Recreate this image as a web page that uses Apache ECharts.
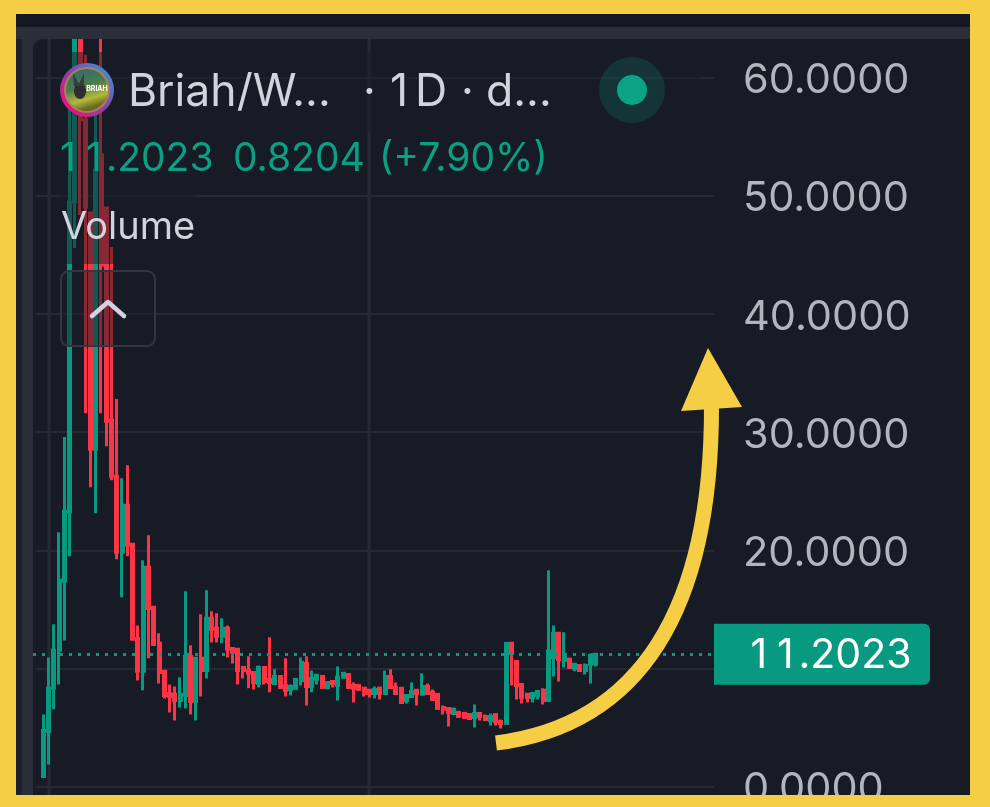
<!DOCTYPE html>
<html>
<head>
<meta charset="utf-8">
<style>html,body{margin:0;padding:0;background:#f6ce45}#c{width:990px;height:807px}</style>
<script src="https://cdn.jsdelivr.net/npm/echarts@6/dist/echarts.min.js"></script>
</head>
<body>
<div id="c"></div>
<script>
const opens  = [0.85,4.66,8.31,11.53,17.37,23.22,49.49,64,56.44,48.56,28.56,53.47,48.98,31.02,26.27,19.83,23.81,20.51,12.54,9.75,18.56,15.17,12.12,9.75,7.88,7.8,7.29,7.71,11.02,7.2,10.85,9.83,14.24,13.39,12.71,13.39,11.69,11.61,10.08,9.83,9.66,8.73,10.08,9.07,8.73,9.32,8.56,8.22,8.31,8.98,10.42,8.47,9.07,9.32,8.39,8.9,8.56,9.24,9.49,8.56,8.56,8.31,8.14,7.88,8.31,7.88,9.32,8.39,8.31,7.29,7.63,8.14,7.8,8.47,7.97,7.8,6.69,6.61,6.19,6.27,6.19,6.1,5.85,6.19,5.93,5.59,6.1,5.51,5.34,12.12,10.59,8.64,7.8,7.54,7.71,8.14,7.29,10.93,12.97,10.68,10.76,10,10.25,9.83,10.34,10.38];
const closes = [4.75,8.31,11.53,17.46,23.3,49.49,64,56.44,49.07,28.56,52.2,44.15,30.93,26.27,19.83,23.81,20.42,12.46,9.75,18.56,15.08,12.03,9.66,7.71,7.63,7.29,7.8,11.02,7.2,10.85,9.83,14.24,13.31,12.71,13.39,11.61,11.36,9.83,9.83,9.58,8.81,10.08,8.9,8.81,9.32,8.39,8.14,8.47,9.07,10.51,8.47,9.15,9.41,8.39,8.81,8.73,9.24,9.58,8.39,8.31,8.22,7.88,7.88,8.22,7.88,9.32,8.39,7.88,7.12,7.71,8.05,7.88,8.47,7.88,7.37,6.61,6.53,6.27,6.53,5.93,5.85,5.76,6.19,5.93,5.68,5.93,5.51,5.34,12.12,11.27,8.56,7.54,7.54,7.88,8.05,7.29,11.44,12.97,10.76,10.93,10.08,10.34,9.83,10.25,11.1,11.2023];
const lows   = [0.85,1.86,6.53,8.64,12.37,19.49,45.59,48.39,31.61,25.34,23.14,31.61,28.81,25.93,19.24,16.02,19.49,12.37,8.98,8.14,10.85,11.95,8.73,7.46,6.27,5.59,6.69,6.61,6.1,5.59,7.63,9.15,12.2,12.2,12.12,10.93,10.42,8.64,9.15,8.31,8.22,8.39,8.64,7.97,8.73,8.31,7.63,7.71,8.31,8.56,6.86,7.97,8.64,8.39,8.22,8.39,7.29,9.15,8.31,7.12,8.22,7.63,7.54,7.46,7.37,7.88,8.39,7.88,7.03,7.03,7.63,6.86,7.71,7.8,7.29,6.61,6.1,5.08,6.1,5.93,5.85,5.68,5,5.59,5.68,5.17,5.17,4.92,5.34,8.56,7.37,7.03,7.12,7.12,7.37,6.95,7.29,9.32,8.9,10.08,10.08,9.75,9.75,9.49,8.73,10.17];
const highs  = [6.1,10.93,13.73,21.53,29.58,57.71,66,66,61.95,48.56,57.29,66,48.98,45.68,32.8,26.1,27.2,20.51,13.64,19.15,21.27,15.17,12.97,9.75,8.64,8.47,9.24,16.53,11.95,10.85,14.58,16.61,14.83,14.66,14.24,13.64,11.69,11.61,10.17,11.02,9.66,10.25,10.08,12.63,9.92,9.32,10.85,8.64,9.07,10.93,11.02,9.83,9.49,9.32,8.9,8.9,10.17,9.66,9.49,8.81,8.56,8.31,8.14,8.47,8.47,9.83,9.92,8.81,8.31,7.8,8.81,8.14,9.58,8.73,8.22,7.8,6.86,6.61,6.69,6.27,6.19,6.1,6.95,6.19,6.1,6.19,6.1,5.68,12.12,12.2,10.59,8.64,7.8,7.88,8.14,8.31,18.31,13.64,12.97,13.05,10.93,10.34,10.34,10.42,11.27,11.2023];
const lastPrice = 11.2023;
const verticalMarkers = [2,63];
const leadingEmptyDays = 1, trailingEmptyDays = 22;
const titleLeft = 'Briah/W...';
const changeText = '0.8204', pctText = '(+7.90%)', volumeText = 'Volume';

const UP='#089981', UPTEXT='#0aa083', DOWN='#fb3545', BG='#171b26', BAND='#2a2e39', YEL='#f6ce45', F='Inter, sans-serif';
const blank=['-','-','-','-'];
const candles=[];
for(let i=0;i<leadingEmptyDays;i++)candles.push(blank);
opens.forEach((o,i)=>candles.push([o,closes[i],lows[i],highs[i]]));
const total=candles.length+trailingEmptyDays;
const categories=Array.from({length:total},(_,i)=>String(i));
const priceStr=lastPrice.toFixed(4);

const chart=echarts.init(document.getElementById('c'),null,{renderer:'canvas'});
const rect=(x,y,w,h,fill,z,r)=>({type:'rect',silent:true,z,shape:{x,y,width:w,height:h,r:r||0},style:{fill}});
const txt=(text,x,y,size,fill,z)=>({type:'text',silent:true,z:z||60,style:{text,x,y,fill,font:`${size}px ${F}`,textVerticalAlign:'middle'}});
const circ=(cx,cy,r,fill,z)=>({type:'circle',silent:true,z:z||60,shape:{cx,cy,r},style:{fill}});

chart.setOption({
  animation:false,
  backgroundColor:BG,
  grid:{left:35.4,right:276,top:77.8,bottom:20.5,containLabel:false,outerBoundsMode:'none'},
  xAxis:{type:'category',data:categories,boundaryGap:true,axisLine:{show:false},axisTick:{show:false},axisLabel:{show:false},splitLine:{show:false}},
  yAxis:{type:'value',position:'right',min:0,max:60,interval:10,scale:false,
    axisLine:{show:false},axisTick:{show:false},
    axisLabel:{margin:29,formatter:v=>`{a|${v.toFixed(4)}}`,
      rich:{a:{color:'#b2b5be',fontFamily:F,fontSize:41.5,padding:[6,0,0,0]}}},
    splitLine:{lineStyle:{color:'#252933',width:2}}},
  series:[
    {type:'candlestick',z:3,clip:false,barWidth:2.5,silent:true,data:candles,
      itemStyle:{color:UP,color0:DOWN,borderColor:UP,borderColor0:DOWN,borderWidth:3},
      markLine:{silent:true,symbol:'none',animation:false,precision:4,
        lineStyle:{color:'rgba(0,0,0,0)',width:1},
        label:{show:true,position:'end',distance:0,
          formatter:()=>[...priceStr.slice(0,2)].map(c=>`{d|${c}}`).join('')+`{n|${priceStr.slice(2)}}`,
          rich:{d:{width:26.5,fontFamily:F,fontSize:41,color:'#fff',align:'center'},n:{fontFamily:F,fontSize:41,color:'#fff'}},
          backgroundColor:UP,width:203,height:58,lineHeight:58,padding:[3,0,0,13],borderRadius:[0,6,6,0],align:'left',verticalAlign:'middle'},
        data:[{yAxis:lastPrice}]}}
  ]
});

const vLines=verticalMarkers.map(k=>{
  const x=chart.convertToPixel({xAxisIndex:0},k);
  return rect(Math.round(x)-1.5,39,3,756,'#262a33',1);
});
const priceY=Math.floor(chart.convertToPixel({yAxisIndex:0},lastPrice));
const priceDots=[];
for(let x=33;x<712;x+=9)priceDots.push(rect(x,priceY-1,3,3,UP,4));

chart.setOption({
  graphic:{elements:vLines.concat(priceDots,[
    rect(16,14,954,13,'#141824',50),
    rect(16,27,954,12,BAND,50),
    rect(16,39,6,756,'#1d212c',50),
    rect(22,39,11,756,BAND,50),
    rect(33,39,10,10,BAND,50),
    rect(33,39,14,14,BG,51,[10,0,0,0]),
    rect(60,52,640,80,'rgba(23,27,38,0.5)',55),
    rect(60,132,135,132,'rgba(23,27,38,0.5)',55),
    rect(61,271,94,75,'rgba(23,27,38,0.5)',55),
    {type:'rect',silent:true,z:56,shape:{x:61,y:271,width:94,height:75,r:8},style:{fill:'none',stroke:'#333640',lineWidth:2}},
    {type:'polyline',silent:true,z:60,shape:{points:[[92,316],[108,302],[124,316]]},style:{fill:'none',stroke:'#d1d4dc',lineWidth:4.5,lineCap:'round',lineJoin:'round'}},
    {type:'circle',silent:true,z:60,shape:{cx:87,cy:90,r:27},style:{fill:{type:'linear',x:0.1,y:0.9,x2:0.9,y2:0.1,colorStops:[{offset:0,color:'#e8107a'},{offset:0.5,color:'#8e3fa8'},{offset:1,color:'#3f8fd0'}]}}},
    circ(87,90,23,'#a8805a',61),
    {type:'circle',silent:true,z:62,shape:{cx:87,cy:90,r:21},style:{fill:{type:'linear',x:0,y:0,x2:0.3,y2:1,colorStops:[{offset:0,color:'#2c6a78'},{offset:0.5,color:'#4d7a4a'},{offset:0.8,color:'#b3b93a'},{offset:1,color:'#6a6a20'}]}}},
    {type:'ellipse',silent:true,z:63,shape:{cx:80,cy:91,rx:6,ry:8},style:{fill:'#2e2c33'}},
    {type:'polygon',silent:true,z:63,shape:{points:[[74,86],[73,73],[79,84],[84,73],[84,86]]},style:{fill:'#3a3840'}},
    {type:'text',silent:true,z:64,style:{text:'BRIAH',x:97,y:89,fill:'#fff',font:`bold 7px ${F}`,textAlign:'center',textVerticalAlign:'middle'}},
    txt(titleLeft,128,93,44.5,'#d1d4dc'),
    txt('·',363,93,44.5,'#d1d4dc'),
    txt('1',390,93,44.5,'#d1d4dc'),
    txt('D',415,93,44.5,'#d1d4dc'),
    txt('·',461,93,44.5,'#d1d4dc'),
    txt('d...',486,93,44.5,'#d1d4dc'),
    circ(632,90,33,'rgba(8,153,129,0.2)'),
    circ(632,90,15,'#0aa385',61),
    txt(priceStr[0],60,159,39,UPTEXT),
    txt(priceStr[1],86,159,39,UPTEXT),
    txt(priceStr.slice(2),106,159,39,UPTEXT),
    txt(changeText,233,159,39,UPTEXT),
    txt(pctText,379,159,39,UPTEXT),
    txt(volumeText,61,228,38,'#d1d4dc'),
    {type:'bezierCurve',silent:true,z:80,shape:{x1:496,y1:743,cpx1:640,cpy1:725,cpx2:712,cpy2:610,x2:711.5,y2:405},style:{fill:'none',stroke:YEL,lineWidth:15}},
    {type:'polygon',silent:true,z:81,shape:{points:[[708,348],[742,407],[681,411]]},style:{fill:YEL}},
    rect(0,0,990,14,YEL,90),
    rect(0,795,990,12,YEL,90),
    rect(0,0,16,807,YEL,90),
    rect(970,0,20,807,YEL,90)
  ])}
});
</script>
</body>
</html>
